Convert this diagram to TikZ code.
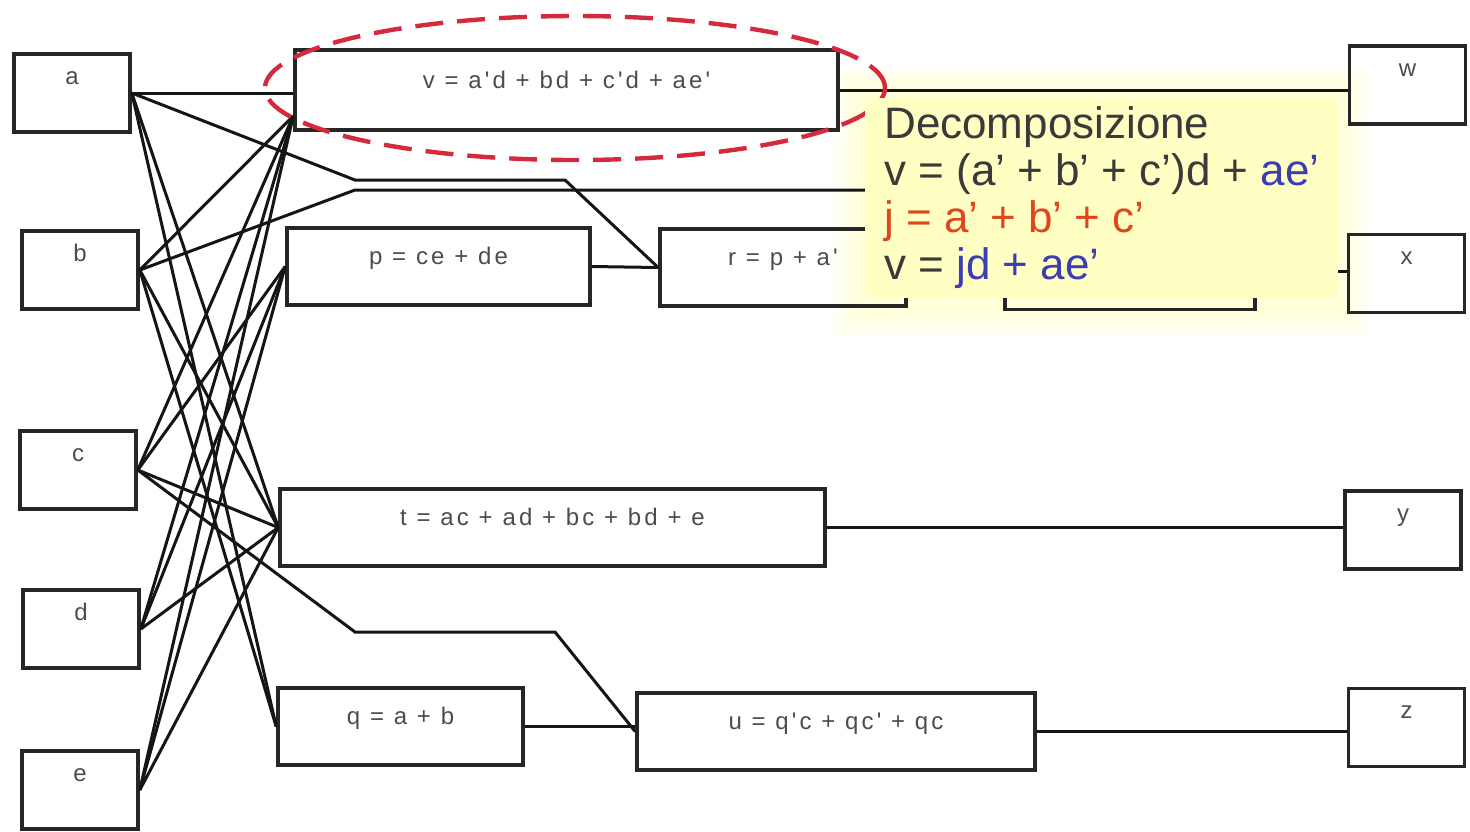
\documentclass[tikz,border=0pt]{standalone}
\usepackage{fontspec}
\setmainfont{Liberation Sans}
\newfontfamily\boxfont[LetterSpace=13]{Liberation Sans}

\definecolor{wirecol}{HTML}{151515}
\definecolor{ringred}{HTML}{D42A3C}
\definecolor{notefill}{HTML}{FFFFC4}
\definecolor{noteblue}{HTML}{3C3CB4}
\definecolor{notered}{HTML}{E0461E}
\definecolor{notegray}{HTML}{3A3A3A}

\begin{document}
\begin{tikzpicture}[x=0.5pt,y=-0.5pt,
    box/.style={draw=black!85,line width=1.8pt,inner sep=0pt,
      font=\boxfont\fontsize{12}{14}\selectfont,text=black!70,text height=9pt},
    inbox/.style={box,minimum width=58pt,minimum height=39pt,text depth=18pt},
    fnbox/.style={box,minimum height=38.5pt,text depth=11pt},
    wire/.style={draw=wirecol,line width=1.5pt}]
    \useasboundingbox (0,0) rectangle (1470,831);

    % soft halo behind the note
    \foreach \g in {6,12,18,24,30}
      \fill[notefill,opacity=0.18] ({865-\g},{98-\g}) rectangle ({1338+\g},{306+\g});

    % inputs
    \node[inbox] (inA) at (72,93) {a};
    \node[inbox] (inB) at (80,270) {b};
    \node[inbox] (inC) at (78,470) {c};
    \node[inbox] (inD) at (81,629) {d};
    \node[inbox] (inE) at (80,790) {e};

    % internal functions
    \node[fnbox,minimum width=271.5pt,minimum height=40pt] (nV) at (566.5,90) {v = a'd + bd + c'd + ae'};
    \node[fnbox,minimum width=151.5pt] (nP) at (438.5,266.5) {p = ce + de};
    \node[fnbox,minimum width=123pt] (nR) at (783,267.5) {r = p + a'};
    \node[fnbox,minimum width=125pt] (nS) at (1130,271) {};
    \node[fnbox,minimum width=272.5pt] (nT) at (552.5,527.5) {t = ac + ad + bc + bd + e};
    \node[fnbox,minimum width=122.5pt] (nQ) at (400.5,726.5) {q = a + b};
    \node[fnbox,minimum width=199pt] (nU) at (836,731.5) {u = q'c + qc' + qc};

    % outputs
    \node[inbox] (outW) at (1407.5,85) {w};
    \node[inbox] (outX) at (1406.5,273.5) {x};
    \node[inbox] (outY) at (1403,530) {y};
    \node[inbox] (outZ) at (1406.5,727.5) {z};

    \coordinate (vin) at ([yshift=-13pt]nV.west);

    \draw[wire] (inA.east) -- (inA.east -| nV.west);
    \foreach \src in {inB,inC,inD,inE}
      \draw[wire] (\src.east) -- (vin);
    \foreach \src in {inC,inD,inE}
      \draw[wire] (\src.east) -- (nP.west);
    \foreach \src in {inA,inB,inC,inD,inE}
      \draw[wire] (\src.east) -- (nT.west);
    \foreach \src in {inA,inB}
      \draw[wire] (\src.east) -- (nQ.west);

    \draw[wire] (inA.east) -- (355,180) -- (565,180) -- (nR.west);
    \draw[wire] (inB.east) -- (355,190) -- (950,190) -- (nS.west);
    \draw[wire] (inC.east) -- (355,632) -- (555,632) -- (nU.west);

    \draw[wire] (nP.east) -- (nR.west);
    \draw[wire] (nR.east) -- (nS.west);
    \draw[wire] (nQ.east) -- (nQ.east -| nU.west);
    \draw[wire] (nV.east) -- (nV.east -| outW.west);
    \draw[wire] (nS.east) -- (nS.east -| outX.west);
    \draw[wire] (nT.east) -- (nT.east -| outY.west);
    \draw[wire] (nU.east) -- (nU.east -| outZ.west);

    % ring round v
    \draw[ringred,line width=2.2pt,dash pattern=on 14pt off 7pt] (575,88) ellipse [x radius=155pt,y radius=36pt];

    \node[fill=notefill,anchor=north west,minimum width=236.5pt,inner xsep=7.5pt,inner ysep=4.3pt,
      align=left,font=\fontsize{22}{23.5}\selectfont,text=notegray] (note) at (865,98)
      {Decomposizione\\
       v = (a' + b' + c')d + \textcolor{noteblue}{ae'}\\
       \textcolor{notered}{j = a' + b' + c'}\\
       v = \textcolor{noteblue}{jd + ae'}};
\end{tikzpicture}
\end{document}
